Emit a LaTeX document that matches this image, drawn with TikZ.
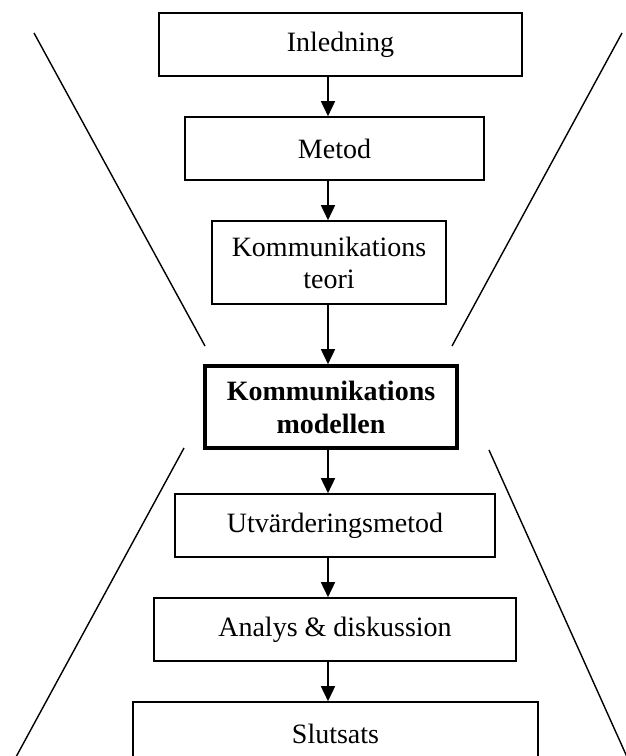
\documentclass[tikz,border=0pt]{standalone}
\usepackage{fontspec}
\setmainfont{Liberation Serif}
\usetikzlibrary{arrows.meta}

\begin{document}
\begin{tikzpicture}[x=1pt, y=-1pt,
    box/.style={draw, line width=1.6pt, inner sep=0pt, align=center,
      font=\fontsize{28}{32}\selectfont},
    keybox/.style={box, line width=3.6pt, font=\fontsize{28}{33}\selectfont\bfseries},
    flow/.style={-{Triangle[width=14pt,length=15pt]}, line width=1.6pt},
    funnel/.style={line width=1.4pt}]

  \path[use as bounding box] (0,0) rectangle (626,756);
  \clip (0,0) rectangle (626,756);

  % ════ trattens kanter ════
  \draw[funnel] (34,33) -- (205,346);
  \draw[funnel] (622,33) -- (452,346);
  \draw[funnel] (184,448) -- (10,768);
  \draw[funnel] (489,450) -- (632,768);

  % ════ rutor ════
  \node[box, minimum width=363, minimum height=63] (inledning) at (340.5,44.5) {Inledning};
  \node[box, minimum width=299, minimum height=63] (metod) at (334.5,148.5) {Metod};
  \node[box, minimum width=234, minimum height=83] (teori) at (329,262.5) {Kommunikations\\teori};
  \node[keybox, minimum width=252, minimum height=82] (modell) at (331,407) {Kommunikations\\modellen};
  \node[box, minimum width=320, minimum height=63] (utvard) at (335,525.5) {Utvärderingsmetod};
  \node[box, minimum width=362, minimum height=63] (analys) at (335,629.5) {Analys \& diskussion};
  \node[box, minimum width=405, minimum height=63] (slutsats) at (335.5,733.5) {Slutsats};

  % ════ pilar ════
  % pilarna ligger inte mitt i rutorna, utan på en gemensam linje
  \coordinate (spine) at (328,0);
  \draw[flow] (inledning.south -| spine) -- (metod.north -| spine);
  \draw[flow] (metod.south -| spine) -- (teori.north -| spine);
  \draw[flow] (teori.south -| spine) -- (modell.north -| spine);
  \draw[flow] (modell.south -| spine) -- (utvard.north -| spine);
  \draw[flow] (utvard.south -| spine) -- (analys.north -| spine);
  \draw[flow] (analys.south -| spine) -- (slutsats.north -| spine);
\end{tikzpicture}
\end{document}
